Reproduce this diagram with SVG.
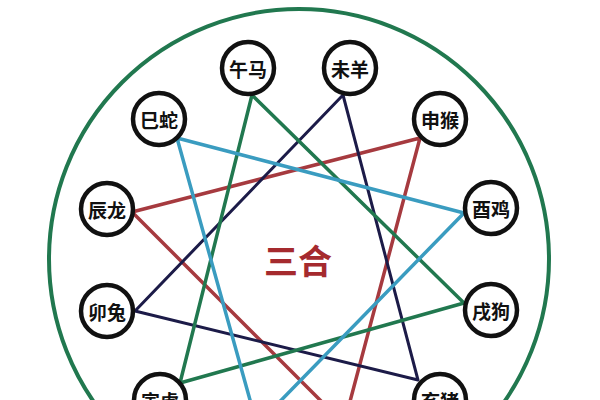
<svg xmlns="http://www.w3.org/2000/svg" width="600" height="400" viewBox="0 0 600 400">
<style>
.node circle{fill:#fff;stroke:#111;stroke-width:4.5}
.node text{font-family:"Noto Sans CJK SC","Noto Sans",sans-serif;font-size:19px;font-weight:bold;fill:#111;text-anchor:middle;dominant-baseline:central}
.ln{fill:none;stroke-width:3.5;stroke-linecap:round;stroke-linejoin:round}
.red{stroke:#a63a3f}
.navy{stroke:#1c1b48;stroke-width:3}
.green{stroke:#21784f}
.teal{stroke:#3a9cc0}
</style>
<rect width="600" height="400" fill="#fff"/>
<circle id="outer" cx="299" cy="259" r="250" fill="none" stroke="#21784f" stroke-width="4"/>
<g id="connectors">
<polyline class="ln red" points="132,212 420,138 344,424 132,212"/>
<polyline class="ln navy" points="343,95 135,311 418,380 343,95"/>
<polyline class="ln green" points="252,95 180,383 464,303 252,95"/>
<polyline class="ln teal" points="177,138 464,213 257,425 177,138"/>
</g>
<g id="n-wu" class="node"><circle cx="248" cy="68" r="26"/><text x="248" y="68">午马</text></g>
<g id="n-wei" class="node"><circle cx="350" cy="68" r="26"/><text x="350" y="68">未羊</text></g>
<g id="n-shen" class="node"><circle cx="440" cy="119" r="26"/><text x="440" y="119">申猴</text></g>
<g id="n-you" class="node"><circle cx="491" cy="208" r="26"/><text x="491" y="208">酉鸡</text></g>
<g id="n-xu" class="node"><circle cx="491" cy="310" r="26"/><text x="491" y="310">戌狗</text></g>
<g id="n-hai" class="node"><circle cx="440" cy="400" r="26"/><text x="440" y="400">亥猪</text></g>
<g id="n-yin" class="node"><circle cx="160" cy="400" r="26"/><text x="160" y="400">寅虎</text></g>
<g id="n-mao" class="node"><circle cx="107" cy="311" r="26"/><text x="107" y="311">卯兔</text></g>
<g id="n-chen" class="node"><circle cx="107" cy="209" r="26"/><text x="107" y="209">辰龙</text></g>
<g id="n-si" class="node"><circle cx="159" cy="119" r="26"/><text x="159" y="119">巳蛇</text></g>
<text id="title" x="298" y="274" font-family="Noto Sans CJK SC,Noto Sans,sans-serif" font-size="34" font-weight="bold" fill="#a52a2e" text-anchor="middle">三合</text>
</svg>
